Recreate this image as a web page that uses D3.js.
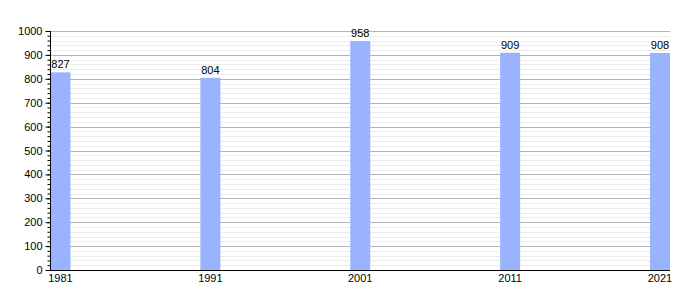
<!DOCTYPE html>
<html>
<head>
<meta charset="utf-8">
<script src="https://cdn.jsdelivr.net/npm/d3@7"></script>
<style>
    body { margin: 0; background: #fff; }
    svg { display: block; font-family: "Liberation Sans", Arial, sans-serif; }
</style>
</head>
<body>
<script>
const years = [1981, 1991, 2001, 2011, 2021]
const population = [827, 804, 958, 909, 908]
const yTicks = [0, 100, 200, 300, 400, 500, 600, 700, 800, 900, 1000]

const WIDTH = 700
const HEIGHT = 300
const BAR_W = 20

const PADDING = {
    left: 50.5,
    right: 30,
    top: 31,
    bottom: 30
}

const svg = d3.select("body")
    .append("svg")
    .attr("width", WIDTH)
    .attr("height", HEIGHT)

const xScale = d3.scaleLinear()
    .domain([d3.min(years), d3.max(years)])
    .range([PADDING.left, WIDTH - PADDING.right - BAR_W])

const yScale = d3.scaleLinear()
    .domain([0, 1000])
    .range([HEIGHT - PADDING.bottom, PADDING.top])

const minorTicks = d3.range(0, 1001, 20)
const right = WIDTH - PADDING.right

// grid
svg.append("g")
    .selectAll("line")
    .data(minorTicks.filter(d => d % 100 !== 0))
    .enter()
    .append("line")
    .attr("x1", PADDING.left)
    .attr("x2", right)
    .attr("y1", d => Math.round(yScale(d)) + 0.5)
    .attr("y2", d => Math.round(yScale(d)) + 0.5)
    .attr("stroke", "#ececec")

svg.append("g")
    .selectAll("line")
    .data(yTicks.filter(d => d > 0))
    .enter()
    .append("line")
    .attr("x1", PADDING.left)
    .attr("x2", right)
    .attr("y1", d => Math.round(yScale(d)) + 0.5)
    .attr("y2", d => Math.round(yScale(d)) + 0.5)
    .attr("stroke", "#b4b4b4")

// bars
svg.selectAll("rect")
    .data(years)
    .enter()
    .append("rect")
    .attr("x", d => xScale(d))
    .attr("y", (d, i) => yScale(population[i]))
    .attr("width", BAR_W)
    .attr("height", (d, i) => yScale(0) - yScale(population[i]))
    .attr("fill", "#99b3ff")

svg.append("g")
    .selectAll("text")
    .data(years)
    .enter()
    .append("text")
    .attr("x", d => xScale(d) + BAR_W / 2)
    .attr("y", (d, i) => yScale(population[i]) - 4)
    .attr("text-anchor", "middle")
    .style("font-size", "11px")
    .text((d, i) => population[i])

// y axis
const yAxis = d3.axisLeft(yScale)
    .tickValues(yTicks)
    .tickSize(5)
    .tickPadding(3)
    .tickFormat(d3.format("d"))

const yMinor = d3.axisLeft(yScale)
    .tickValues(minorTicks)
    .tickSize(3)
    .tickFormat("")

svg.append("g")
    .attr("transform", "translate(" + PADDING.left + ", 0)")
    .call(yMinor)
    .call(g => g.select(".domain").remove())

svg.append("g")
    .attr("id", "y-axis")
    .attr("transform", "translate(" + PADDING.left + ", 0)")
    .call(yAxis)
    .call(g => g.selectAll("text").style("font-size", "11px").style("font-family", "Liberation Sans, Arial, sans-serif"))
    .call(g => g.select(".domain").attr("d", "M0," + yScale(1000) + "V" + yScale(0)))

// x axis
svg.append("line")
    .attr("x1", PADDING.left)
    .attr("x2", right)
    .attr("y1", yScale(0) + 0.5)
    .attr("y2", yScale(0) + 0.5)
    .attr("stroke", "#000")

svg.append("g")
    .selectAll("text")
    .data(years)
    .enter()
    .append("text")
    .attr("x", d => xScale(d) + BAR_W / 2)
    .attr("y", yScale(0) + 12)
    .attr("text-anchor", "middle")
    .style("font-size", "11px")
    .text(d => d)
</script>
</body>
</html>
